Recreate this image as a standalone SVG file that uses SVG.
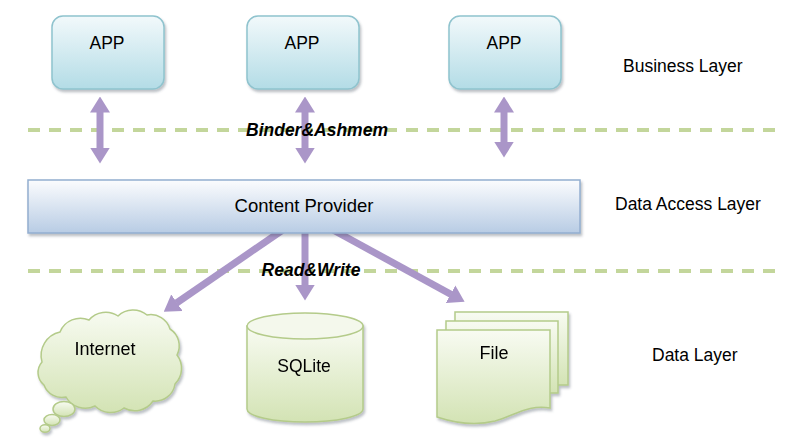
<svg xmlns="http://www.w3.org/2000/svg" width="798" height="445" viewBox="0 0 798 445">
<defs>
  <linearGradient id="gApp" x1="0" y1="0" x2="0" y2="1">
    <stop offset="0" stop-color="#f2f9fb"/>
    <stop offset="1" stop-color="#b3dce6"/>
  </linearGradient>
  <linearGradient id="gCp" x1="0" y1="0" x2="0" y2="1">
    <stop offset="0" stop-color="#fbfcfe"/>
    <stop offset="1" stop-color="#b8cce4"/>
  </linearGradient>
  <linearGradient id="gGreen" x1="0" y1="0" x2="0" y2="1">
    <stop offset="0" stop-color="#f8fbf2"/>
    <stop offset="1" stop-color="#d3e3b4"/>
  </linearGradient>
  <filter id="shadow" x="-10%" y="-10%" width="125%" height="130%">
    <feDropShadow dx="1.5" dy="2.5" stdDeviation="1.2" flood-color="#405060" flood-opacity="0.35"/>
  </filter>
  <marker id="head" viewBox="0 0 16 20" markerUnits="userSpaceOnUse" markerWidth="16" markerHeight="20" refX="0.5" refY="10" orient="auto-start-reverse">
    <path d="M0,0 L16,10 L0,20 Z" fill="#aa96c8"/>
  </marker>
  <style>
    .app { fill: url(#gApp); stroke: #8fc3ce; stroke-width: 1.5; filter: url(#shadow); }
    .cp { fill: url(#gCp); stroke: #93aed0; stroke-width: 1.5; filter: url(#shadow); }
    .green { fill: url(#gGreen); stroke: #b4cb8a; stroke-width: 1.5; }
    .dash { stroke: #c3d69b; stroke-width: 4; stroke-dasharray: 12 9; fill: none; }
    .conn { stroke: #aa96c8; stroke-width: 7; fill: none; }
    .lbl { font-family: "Liberation Sans", Arial, sans-serif; font-size: 17.5px; fill: #000; }
    .mid { text-anchor: middle; }
    .bi { font-weight: bold; font-style: italic; font-size: 17.5px; }
  </style>
</defs>
<rect width="798" height="445" fill="#ffffff"/>

<g id="separators">
  <line class="dash" x1="28" y1="130" x2="776" y2="130"/>
  <line class="dash" x1="28" y1="271" x2="776" y2="271"/>
</g>

<g id="connectors">
  <line class="conn" x1="100" y1="112" x2="100" y2="148" marker-start="url(#head)" marker-end="url(#head)"/>
  <line class="conn" x1="305" y1="112" x2="305" y2="148" marker-start="url(#head)" marker-end="url(#head)"/>
  <line class="conn" x1="504" y1="112" x2="504" y2="142" marker-start="url(#head)" marker-end="url(#head)"/>
  <line class="conn" x1="290" y1="225" x2="176.5" y2="303" marker-end="url(#head)"/>
  <line class="conn" x1="305" y1="225" x2="305" y2="285" marker-end="url(#head)"/>
  <line class="conn" x1="324" y1="225" x2="451" y2="294.4" marker-end="url(#head)"/>
</g>

<g id="app1">
  <rect class="app" x="52" y="16" width="112" height="73" rx="11"/>
  <text class="lbl mid" x="107" y="49">APP</text>
</g>
<g id="app2">
  <rect class="app" x="247" y="16" width="112" height="73" rx="11"/>
  <text class="lbl mid" x="302" y="49">APP</text>
</g>
<g id="app3">
  <rect class="app" x="449" y="16" width="112" height="73" rx="11"/>
  <text class="lbl mid" x="504" y="49">APP</text>
</g>

<g id="content-provider">
  <rect class="cp" x="28" y="180" width="552" height="53"/>
  <text class="lbl mid" x="304" y="212" style="font-size:18.5px">Content Provider</text>
</g>

<g id="internet" filter="url(#shadow)">
  <path class="green" d="M42,362 A24,24 0 0 1 60,332 A22,22 0 0 1 89,320 A22,22 0 0 1 118,316 A22,22 0 0 1 147,315 A20,20 0 0 1 170,329 A20,20 0 0 1 177,355 A22,22 0 0 1 175,384 A20,20 0 0 1 153,401 A22,22 0 0 1 124,408 A22,22 0 0 1 95,406 A22,22 0 0 1 66,397 A19,19 0 0 1 44,385 A16,16 0 0 1 42,362 Z"/>
  <ellipse class="green" cx="64" cy="409" rx="11" ry="7.5"/>
  <ellipse class="green" cx="52" cy="420" rx="8" ry="5.5"/>
  <ellipse class="green" cx="45" cy="428.5" rx="5" ry="3.8"/>
  <text class="lbl mid" x="105" y="355" style="font-size:18px">Internet</text>
</g>

<g id="sqlite" filter="url(#shadow)">
  <path class="green" d="M247,326 L247,409 A58,13 0 0 0 363,409 L363,326 Z"/>
  <ellipse class="green" cx="305" cy="326" rx="58" ry="13" style="fill:#f4f8ec"/>
  <text class="lbl mid" x="304" y="372">SQLite</text>
</g>

<g id="file" filter="url(#shadow)">
  <rect class="green" x="455" y="312" width="113" height="73"/>
  <rect class="green" x="446" y="321" width="112" height="72"/>
  <path class="green" d="M437,330 H550 V408 C530,404 515,415 495,421 C475,426 455,423 437,417 Z"/>
  <text class="lbl mid" x="494" y="359" style="font-size:18px">File</text>
</g>

<g id="labels">
  <text class="lbl bi mid" x="317" y="136">Binder&amp;Ashmem</text>
  <text class="lbl bi mid" x="311" y="276">Read&amp;Write</text>
  <text class="lbl" x="623" y="72">Business Layer</text>
  <text class="lbl" x="615" y="210">Data Access Layer</text>
  <text class="lbl" x="652" y="361">Data Layer</text>
</g>
</svg>
